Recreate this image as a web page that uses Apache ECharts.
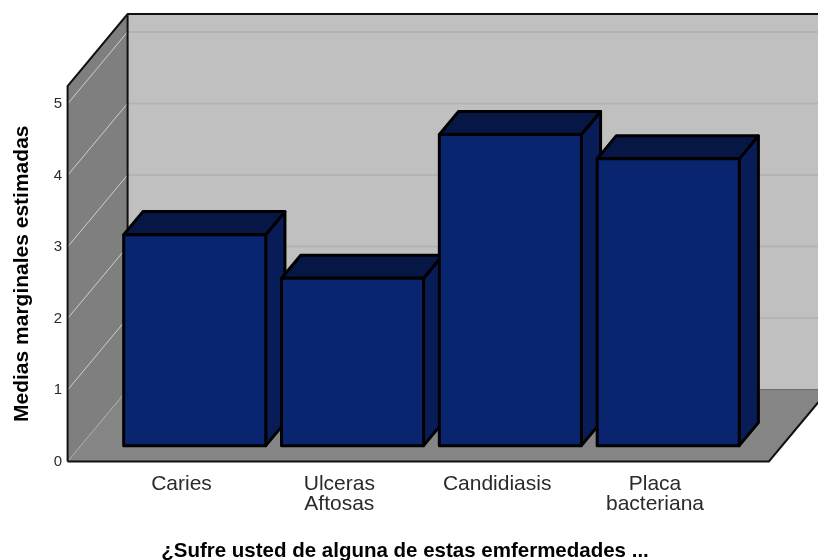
<!DOCTYPE html>
<html>
<head>
<meta charset="utf-8">
<script src="https://cdn.jsdelivr.net/npm/echarts@6/dist/echarts.min.js"></script>
<style>
  html, body { margin: 0; padding: 0; background: #ffffff; }
  #chart { width: 818px; height: 560px; }
</style>
</head>
<body>
<div id="chart"></div>
<script>
// Estimated marginal means per condition
const categories = ['Caries', 'Ulceras\nAftosas', 'Candidiasis', 'Placa\nbacteriana'];
const meanValues = [2.95, 2.34, 4.35, 4.01];
const yTicks = [0, 1, 2, 3, 4, 5];

const yTitle = 'Medias marginales estimadas';
const xTitle = '¿Sufre usted de alguna de estas emfermedades ...';

// Oblique projection used for the pseudo-3D box
const DEPTH = [60, -72];      // full depth of the chart box (px)
const BAR_FRONT = 0.22;       // bar front face, fraction of depth
const BAR_BACK = 0.54;        // bar back face, fraction of depth
const SIDE_PAD = 35;          // floor/wall overhang beyond the category band (px)
const FONT = '"Liberation Sans", Arial, sans-serif';

const chart = echarts.init(document.getElementById('chart'), null, { renderer: 'canvas' });

function renderBox(params, api) {
  const cs = params.coordSys;
  const L = cs.x - SIDE_PAD;
  const R = cs.x + cs.width + SIDE_PAD;
  const top = cs.y;
  const y0 = api.coord([0, 0])[1];
  const dx = DEPTH[0], dy = DEPTH[1];
  const children = [];
  // back wall
  children.push({ type: 'polygon', shape: { points: [[L + dx, top + dy], [R + dx, top + dy], [R + dx, y0 + dy], [L + dx, y0 + dy]] },
    style: { fill: '#c0c0c0' } });
  // floor
  children.push({ type: 'polygon', shape: { points: [[L, y0], [R, y0], [R + dx, y0 + dy], [L + dx, y0 + dy]] },
    style: { fill: '#858585' } });
  // left wall
  children.push({ type: 'polygon', shape: { points: [[L, top], [L + dx, top + dy], [L + dx, y0 + dy], [L, y0]] },
    style: { fill: '#7f7f7f' } });
  // gridlines on back and left walls
  yTicks.forEach(function (t) {
    const yv = api.coord([0, t])[1];
    if (t > 0) {
      children.push({ type: 'line', shape: { x1: L + dx, y1: yv + dy, x2: R + dx, y2: yv + dy },
        style: { stroke: '#b3b3b3', lineWidth: 2 } });
    }
    children.push({ type: 'line', shape: { x1: L, y1: yv, x2: L + dx, y2: yv + dy },
      style: { stroke: t > 0 ? '#cfcfcf' : '#b8b8b8', lineWidth: 1, lineDash: t > 0 ? null : [2, 1] } });
  });
  // box outline
  const edge = { stroke: '#111111', lineWidth: 2 };
  children.push({ type: 'polyline', shape: { points: [[L, y0], [L, top], [L + dx, top + dy], [R + dx + 40, top + dy]] }, style: Object.assign({ fill: null }, edge) });
  children.push({ type: 'line', shape: { x1: L + dx, y1: top + dy, x2: L + dx, y2: y0 + dy }, style: edge });
  children.push({ type: 'polyline', shape: { points: [[L, y0], [R, y0], [R + dx, y0 + dy]] }, style: Object.assign({ fill: null }, edge) });
  children.push({ type: 'line', shape: { x1: L + dx, y1: y0 + dy, x2: R + dx, y2: y0 + dy },
    style: { stroke: '#6e6e6e', lineWidth: 1 } });
  return { type: 'group', children: children };
}

function renderBar(params, api) {
  const idx = api.value(0);
  const val = api.value(1);
  const topPt = api.coord([idx, val]);
  const basePt = api.coord([idx, 0]);
  const bw = api.size([1, 0])[0] * 0.9;
  const f = [DEPTH[0] * BAR_FRONT, DEPTH[1] * BAR_FRONT];
  const b = [DEPTH[0] * BAR_BACK, DEPTH[1] * BAR_BACK];
  const xl = topPt[0] - bw / 2, xr = topPt[0] + bw / 2;
  const yt = topPt[1], yb = basePt[1];
  const stroke = { stroke: '#000000', lineWidth: 3, lineJoin: 'round' };
  return {
    type: 'group',
    children: [
      { type: 'polygon', shape: { points: [[xr + f[0], yt + f[1]], [xr + b[0], yt + b[1]], [xr + b[0], yb + b[1]], [xr + f[0], yb + f[1]]] },
        style: Object.assign({ fill: '#081c58' }, stroke) },
      { type: 'polygon', shape: { points: [[xl + f[0], yt + f[1]], [xr + f[0], yt + f[1]], [xr + b[0], yt + b[1]], [xl + b[0], yt + b[1]]] },
        style: Object.assign({ fill: '#061745' }, stroke) },
      { type: 'rect', shape: { x: xl + f[0], y: yt + f[1], width: bw, height: yb - yt },
        style: Object.assign({ fill: '#0a2570' }, stroke) }
    ]
  };
}

const option = {
  animation: false,
  backgroundColor: '#ffffff',
  title: {
    text: xTitle,
    left: 400, top: 536,
    textAlign: 'center',
    textStyle: { fontFamily: FONT, fontSize: 20.5, fontWeight: 'bold', color: '#000000' }
  },
  grid: { left: 102.6, right: 84.1, top: 86, bottom: 98.5 },
  xAxis: {
    type: 'category',
    data: categories,
    axisLine: { show: false },
    axisTick: { show: false },
    splitLine: { show: false },
    axisLabel: { margin: 13, fontFamily: FONT, fontSize: 21, lineHeight: 20, color: '#2a2a2a', interval: 0 }
  },
  yAxis: {
    type: 'value',
    min: 0, max: 5.25, interval: 1,
    offset: 34.6,
    name: yTitle,
    nameLocation: 'middle',
    nameGap: 35,
    nameTextStyle: { fontFamily: FONT, fontSize: 21, fontWeight: 'bold', color: '#000000' },
    axisLine: { show: false },
    axisTick: { show: false },
    splitLine: { show: false },
    axisLabel: {
      margin: 6, fontFamily: FONT, fontSize: 15, color: '#2a2a2a',
      padding: [7, 0, 0, 0],
      formatter: function (v) { return yTicks.indexOf(v) >= 0 ? String(v) : ''; }
    }
  },
  series: [
    {
      type: 'custom',
      name: 'box',
      renderItem: renderBox,
      data: [[0, 0]],
      silent: true,
      z: 1
    },
    {
      type: 'custom',
      name: 'means',
      renderItem: renderBar,
      data: meanValues.map(function (v, i) { return [i, v]; }),
      encode: { x: 0, y: 1 },
      z: 2
    }
  ]
};

chart.setOption(option);
</script>
</body>
</html>
